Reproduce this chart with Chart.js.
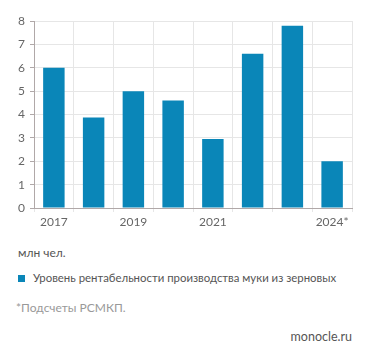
<!DOCTYPE html>
<html><head><meta charset="utf-8">
<script src="https://cdn.jsdelivr.net/npm/chart.js@4"></script>
<style>
html,body{margin:0;padding:0;background:#fff;}
body{width:371px;height:357px;position:relative;overflow:hidden;font-family:Lato,"Open Sans",sans-serif;}
#wrap{position:absolute;left:0;top:0;width:371px;height:232px;}
.t{position:absolute;white-space:nowrap;}
</style></head><body>
<div id="wrap"><canvas id="c"></canvas></div>
<div class="t" style="left:18px;top:245px;font-size:12px;color:#555;">млн чел.</div>
<div class="t" style="left:18px;top:275px;width:7px;height:7px;background:#0a86b8;"></div>
<div class="t" id="leg" style="left:33px;top:271px;font-size:11.4px;color:#555;"></div>
<div class="t" style="left:16px;top:300px;font-size:12px;color:#999;">*Подсчеты РСМКП.</div>
<div class="t" style="right:19px;top:329px;font-size:12.5px;color:#555;">monocle.ru</div>
<script>
const categories = ["2017","2018","2019","2020","2021","2022","2023","2024*"];
const tickLabels = ["2017","","2019","","2021","","","2024*"];
const values = [6.0, 3.87, 5.0, 4.6, 2.95, 6.6, 7.8, 2.0];
const seriesName = "Уровень рентабельности производства муки из зерновых";
const yTicks = [0,1,2,3,4,5,6,7,8];
document.getElementById('leg').textContent = seriesName;

new Chart(document.getElementById('c'), {
  type: 'bar',
  data: { labels: categories, datasets: [{ label: seriesName, data: values, backgroundColor: '#0a86b8', barPercentage: 0.54, categoryPercentage: 1.0 }] },
  options: {
    responsive: true, maintainAspectRatio: false, animation: false,
    layout: { padding: { left: 0, right: 19, top: 21, bottom: 0 } },
    plugins: { legend: { display: false }, tooltip: { enabled: false } },
    scales: {
      x: {
        grid: { color: '#e6e6e6', offset: true, tickLength: 4, tickColor: '#e6e6e6' },
        border: { color: '#b0a8a8' },
        ticks: { color: '#666', font: { family: 'Lato', size: 12 }, padding: 3, autoSkip: false, maxRotation: 0,
          callback: (v, i) => tickLabels[i] },
        afterFit: s => { s.height = 24; }
      },
      y: {
        min: 0, max: 8,
        grid: { color: '#e6e6e6', tickLength: 4, tickColor: '#b0a8a8' },
        border: { color: '#b0a8a8' },
        ticks: { stepSize: 1, color: '#666', font: { family: 'Lato', size: 12 }, padding: 5,
          callback: v => yTicks.includes(v) ? String(v) : '' },
        afterFit: s => { s.width = 34; }
      }
    }
  }
});
</script>
</body></html>
